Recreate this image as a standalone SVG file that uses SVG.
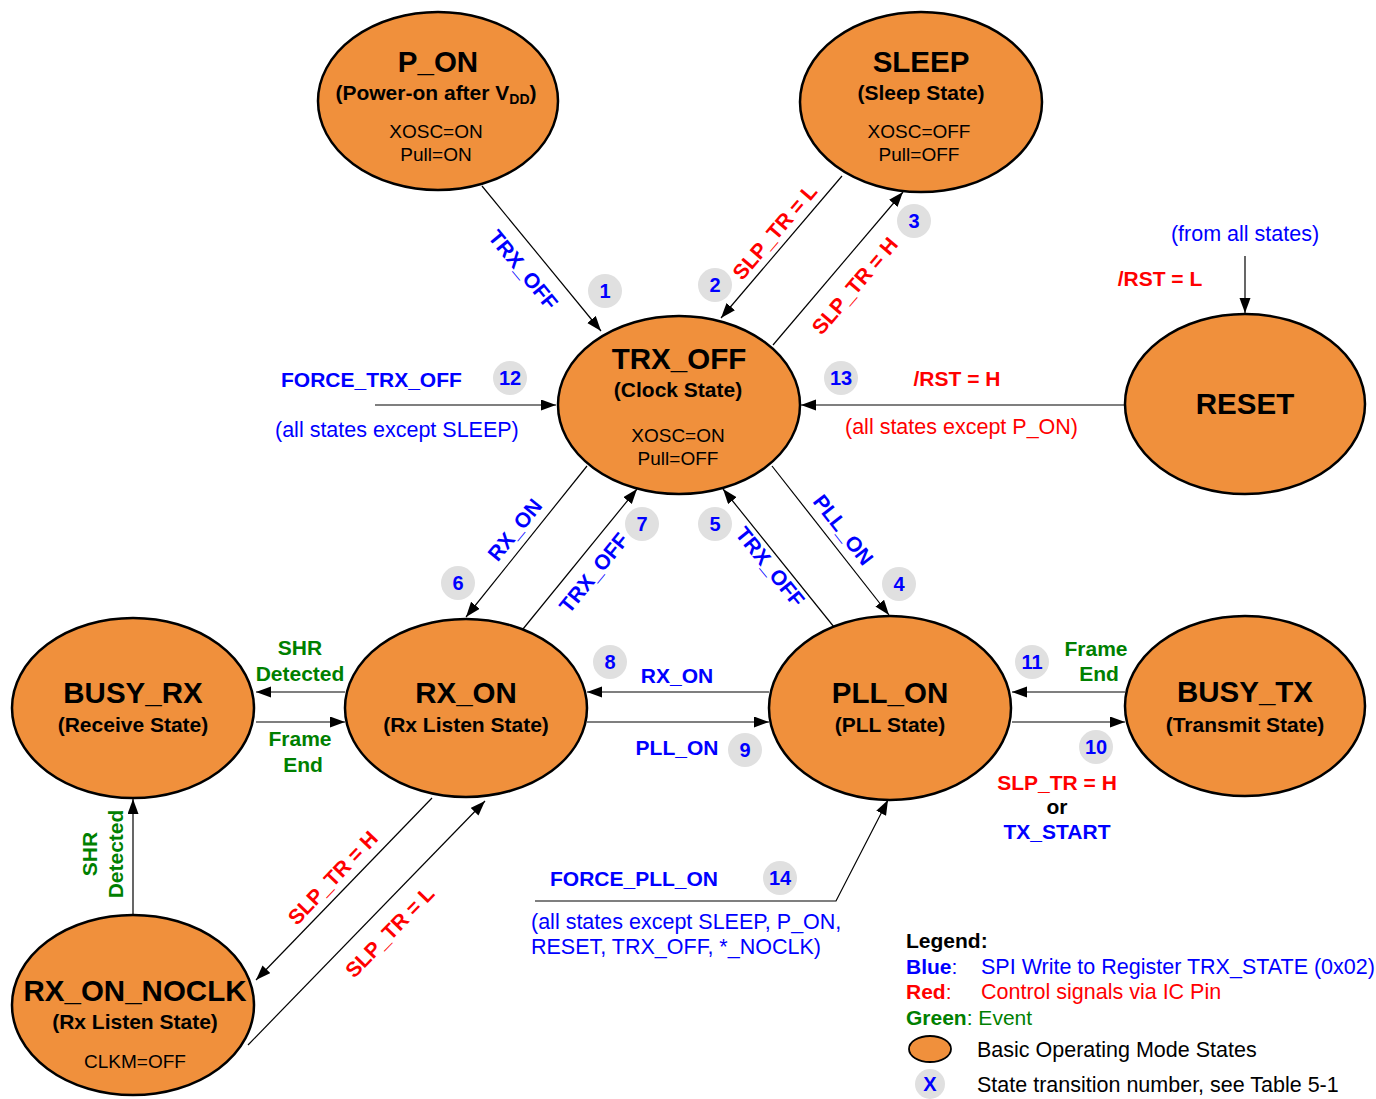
<svg xmlns="http://www.w3.org/2000/svg" width="1376" height="1099" viewBox="0 0 1376 1099">
<style>
text { font-family: "Liberation Sans", Arial, sans-serif; }
.st { fill:#F0903C; stroke:#000; stroke-width:2.5; }
.title { font-size:29.5px; font-weight:bold; text-anchor:middle; fill:#000; }
.sub { font-size:21px; font-weight:bold; text-anchor:middle; fill:#000; }
.det { font-size:19px; text-anchor:middle; fill:#000; }
.lb { font-size:21px; font-weight:bold; }
.ln { font-size:21.5px; }
.mid { text-anchor:middle; }
.blue { fill:#0000FF; }
.red { fill:#FF0000; }
.green { fill:#008000; }
.blk { fill:#000; }
.bc { fill:#E0E0E0; }
.bt { font-size:20px; font-weight:bold; text-anchor:middle; fill:#0000FF; }
.cn { fill:none; stroke:#000; stroke-width:1.2; }
.ar { marker-end:url(#ah); }
</style>
<defs>
<marker id="ah" markerUnits="userSpaceOnUse" markerWidth="16" markerHeight="12" refX="15" refY="5.5" orient="auto">
<path d="M0,0 L15,5.5 L0,11 z" fill="#000"/>
</marker>
</defs>
<rect width="1376" height="1099" fill="#fff"/>

<g id="connectors">
<path class="cn ar" d="M482,186 L601,331"/>
<path class="cn ar" d="M842,176 L721,318"/>
<path class="cn ar" d="M773,345 L903,192"/>
<path class="cn ar" d="M375,405 L556,405"/>
<path class="cn ar" d="M1125,405 L801,405"/>
<path class="cn ar" d="M1245,256 L1245,313"/>
<path class="cn ar" d="M587,466 L466,617"/>
<path class="cn ar" d="M523,629 L637,489"/>
<path class="cn ar" d="M834,627 L723,489"/>
<path class="cn ar" d="M772,466 L889,615"/>
<path class="cn ar" d="M769,692 L587,692"/>
<path class="cn ar" d="M587,722 L769,722"/>
<path class="cn ar" d="M345,692 L256,692"/>
<path class="cn ar" d="M256,722 L345,722"/>
<path class="cn ar" d="M1125,692 L1012,692"/>
<path class="cn ar" d="M1012,722 L1125,722"/>
<path class="cn ar" d="M432,798 L256,980"/>
<path class="cn ar" d="M248,1045 L485,801"/>
<path class="cn ar" d="M133,915 L133,799"/>
<path class="cn ar" d="M535,901 L836,901 L888,800"/>
</g>

<g id="labels">
<text class="lb blue mid" transform="translate(523,270) rotate(50.6)" y="7">TRX_OFF</text>
<text class="lb red mid" transform="translate(775,232) rotate(-49.6)" y="7">SLP_TR = L</text>
<text class="lb red mid" transform="translate(855,286) rotate(-49.6)" y="7">SLP_TR = H</text>
<text class="lb blue" x="281" y="387">FORCE_TRX_OFF</text>
<text class="ln blue" x="275" y="437">(all states except SLEEP)</text>
<text class="lb red mid" x="957" y="386">/RST = H</text>
<text class="ln red" x="845" y="434">(all states except P_ON)</text>
<text class="ln blue mid" x="1245" y="241">(from all states)</text>
<text class="lb red mid" x="1160" y="286">/RST = L</text>
<text class="lb blue mid" transform="translate(515,530) rotate(-51)" y="7">RX_ON</text>
<text class="lb blue mid" transform="translate(594,573) rotate(-51)" y="7">TRX_OFF</text>
<text class="lb blue mid" transform="translate(770,567) rotate(51)" y="7">TRX_OFF</text>
<text class="lb blue mid" transform="translate(843,530) rotate(52)" y="7">PLL_ON</text>
<text class="lb green mid" x="300" y="655">SHR</text>
<text class="lb green mid" x="300" y="681">Detected</text>
<text class="lb green mid" x="300" y="746">Frame</text>
<text class="lb green mid" x="303" y="772">End</text>
<text class="lb blue mid" x="677" y="683">RX_ON</text>
<text class="lb blue mid" x="677" y="755">PLL_ON</text>
<text class="lb green mid" x="1096" y="656">Frame</text>
<text class="lb green mid" x="1099" y="681">End</text>
<text class="lb red mid" x="1057" y="790">SLP_TR = H</text>
<text class="lb blk mid" x="1057" y="814">or</text>
<text class="lb blue mid" x="1057" y="839">TX_START</text>
<text class="lb green mid" transform="translate(90,854) rotate(-90)" y="7">SHR</text>
<text class="lb green mid" transform="translate(116,854) rotate(-90)" y="7">Detected</text>
<text class="lb red mid" transform="translate(333,878) rotate(-46.5)" y="7">SLP_TR = H</text>
<text class="lb red mid" transform="translate(390,932) rotate(-46)" y="7">SLP_TR = L</text>
<text class="lb blue mid" x="634" y="886">FORCE_PLL_ON</text>
<text class="ln blue" x="531" y="929">(all states except SLEEP, P_ON,</text>
<text class="ln blue" x="531" y="954">RESET, TRX_OFF, *_NOCLK)</text>
</g>

<g id="badges">
<circle class="bc" cx="605" cy="291" r="17"/><text class="bt" x="605" y="298">1</text>
<circle class="bc" cx="715" cy="285" r="17"/><text class="bt" x="715" y="292">2</text>
<circle class="bc" cx="914" cy="221" r="17"/><text class="bt" x="914" y="228">3</text>
<circle class="bc" cx="510" cy="378" r="17"/><text class="bt" x="510" y="385">12</text>
<circle class="bc" cx="841" cy="378" r="17"/><text class="bt" x="841" y="385">13</text>
<circle class="bc" cx="642" cy="524" r="17"/><text class="bt" x="642" y="531">7</text>
<circle class="bc" cx="715" cy="524" r="17"/><text class="bt" x="715" y="531">5</text>
<circle class="bc" cx="458" cy="583" r="17"/><text class="bt" x="458" y="590">6</text>
<circle class="bc" cx="899" cy="584" r="17"/><text class="bt" x="899" y="591">4</text>
<circle class="bc" cx="610" cy="662" r="17"/><text class="bt" x="610" y="669">8</text>
<circle class="bc" cx="745" cy="750" r="17"/><text class="bt" x="745" y="757">9</text>
<circle class="bc" cx="1032" cy="662" r="17"/><text class="bt" x="1032" y="669">11</text>
<circle class="bc" cx="1096" cy="747" r="17"/><text class="bt" x="1096" y="754">10</text>
<circle class="bc" cx="780" cy="878" r="17"/><text class="bt" x="780" y="885">14</text>
</g>

<g id="P_ON">
<ellipse class="st" cx="438" cy="101" rx="120" ry="89"/>
<text class="title" x="438" y="72">P_ON</text>
<text class="sub" x="436" y="100">(Power-on after V<tspan font-size="14" dy="4">DD</tspan><tspan dy="-4">)</tspan></text>
<text class="det" x="436" y="138">XOSC=ON</text>
<text class="det" x="436" y="161">Pull=ON</text>
</g>

<g id="SLEEP">
<ellipse class="st" cx="921" cy="102" rx="121" ry="90"/>
<text class="title" x="921" y="72">SLEEP</text>
<text class="sub" x="921" y="100">(Sleep State)</text>
<text class="det" x="919" y="138">XOSC=OFF</text>
<text class="det" x="919" y="161">Pull=OFF</text>
</g>

<g id="TRX_OFF">
<ellipse class="st" cx="679" cy="405" rx="121" ry="89"/>
<text class="title" x="679" y="369">TRX_OFF</text>
<text class="sub" x="678" y="397">(Clock State)</text>
<text class="det" x="678" y="442">XOSC=ON</text>
<text class="det" x="678" y="465">Pull=OFF</text>
</g>

<g id="RESET">
<ellipse class="st" cx="1245" cy="404" rx="120" ry="90"/>
<text class="title" x="1245" y="414">RESET</text>
</g>

<g id="BUSY_RX">
<ellipse class="st" cx="133" cy="708" rx="121" ry="90"/>
<text class="title" x="133" y="703">BUSY_RX</text>
<text class="sub" x="133" y="732">(Receive State)</text>
</g>

<g id="RX_ON">
<ellipse class="st" cx="466" cy="708" rx="121" ry="89"/>
<text class="title" x="466" y="703">RX_ON</text>
<text class="sub" x="466" y="732">(Rx Listen State)</text>
</g>

<g id="PLL_ON">
<ellipse class="st" cx="890" cy="708" rx="121" ry="92"/>
<text class="title" x="890" y="703">PLL_ON</text>
<text class="sub" x="890" y="732">(PLL State)</text>
</g>

<g id="BUSY_TX">
<ellipse class="st" cx="1245" cy="706" rx="120" ry="90"/>
<text class="title" x="1245" y="702">BUSY_TX</text>
<text class="sub" x="1245" y="732">(Transmit State)</text>
</g>

<g id="RX_ON_NOCLK">
<ellipse class="st" cx="133" cy="1005" rx="121" ry="90"/>
<text class="title" x="135" y="1001">RX_ON_NOCLK</text>
<text class="sub" x="135" y="1029">(Rx Listen State)</text>
<text class="det" x="135" y="1068">CLKM=OFF</text>
</g>

<g id="legend">
<text class="lb blk" x="906" y="948">Legend:</text>
<text class="lb blue" x="906" y="974">Blue<tspan font-weight="normal">:</tspan></text>
<text class="ln blue" x="981" y="974">SPI Write to Register TRX_STATE (0x02)</text>
<text class="lb red" x="906" y="999">Red<tspan font-weight="normal">:</tspan></text>
<text class="ln red" x="981" y="999">Control signals via IC Pin</text>
<text class="lb green" x="906" y="1025">Green<tspan font-weight="normal">: Event</tspan></text>
<ellipse class="st" cx="930" cy="1049" rx="21" ry="13" style="stroke-width:1.8"/>
<text class="ln blk" x="977" y="1057">Basic Operating Mode States</text>
<circle class="bc" cx="930" cy="1084" r="15"/><text class="bt" x="930" y="1091">X</text>
<text class="ln blk" x="977" y="1092">State transition number, see Table 5-1</text>
</g>
</svg>
